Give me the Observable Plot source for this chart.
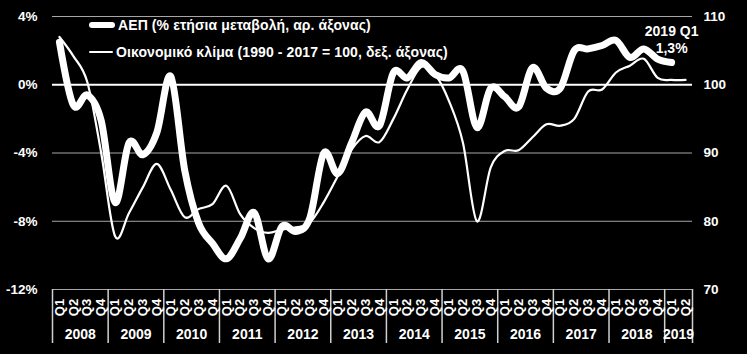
<!DOCTYPE html>
<html><head><meta charset="utf-8">
<script src="https://cdn.jsdelivr.net/npm/d3@7"></script>
<script src="https://cdn.jsdelivr.net/npm/@observablehq/plot@0.6"></script>
<style>
html,body{margin:0;padding:0;background:#000;}
#wrap{position:relative;width:747px;height:354px;font-family:"Liberation Sans",Arial,sans-serif;font-weight:bold;color:#fff;overflow:hidden;}
.leg{position:absolute;left:89px;font-size:14px;height:20px;display:flex;align-items:center;white-space:nowrap;letter-spacing:0.1px;}
.sw{display:inline-block;background:#fff;margin-right:3px;}
</style></head><body><div id="wrap"></div>
<script>
// ---- data ----
const years = [2008,2009,2010,2011,2012,2013,2014,2015,2016,2017,2018,2019];
const quartersPerYear = [4,4,4,4,4,4,4,4,4,4,4,2];
const quarterNames = ["Q1","Q2","Q3","Q4"];
const yTicks = [-12,-8,-4,0,4];
const seriesNames = ["ΑΕΠ (% ετήσια μεταβολή, αρ. άξονας)", "Οικονομικό κλίμα (1990 - 2017 = 100, δεξ. άξονας)"];
// GDP, % y/y, 2008Q1 .. 2019Q1
const gdp = [
  2.5, -1.2, -0.6, -2.1,
  -6.9, -3.4, -4.1, -2.8,
  0.5, -5.0, -8.1, -9.3,
  -10.2, -9.0, -7.5, -10.2,
  -8.3, -8.6, -7.8, -4.0,
  -5.2, -3.4, -1.6, -2.4,
  0.7, 0.4, 1.3, 0.6,
  0.4, 0.8, -2.5, -0.2,
  -0.7, -1.3, 1.0, -0.2,
  -0.2, 2.0, 2.1, 2.3,
  2.6, 1.6, 2.1, 1.5,
  1.3
];
// Economic climate index (1990-2017 = 100), 2008Q1 .. 2019Q2
const climate = [
  107.0, 104.2, 100.4, 90.0,
  77.8, 81.2, 85.0, 88.4,
  84.6, 80.6, 81.8, 82.5,
  85.2, 81.0, 79.0, 78.3,
  78.8, 79.1, 79.8, 82.8,
  86.6, 90.5, 92.5, 91.6,
  95.0, 99.3, 102.6, 101.5,
  97.6, 91.5, 80.0, 87.9,
  90.3, 90.4, 92.3, 94.2,
  94.0, 95.0, 99.0, 99.3,
  101.8, 102.8, 103.8, 101.0,
  100.7, 100.7
];
const annotationPeriod = "2019 Q1";

// ---- derived ----
const periods = years.flatMap((y, k) => quarterNames.slice(0, quartersPerYear[k]).map(q => ({year: y, q})));
const yearStarts = quartersPerYear.map((n, k) => d3.sum(quartersPerYear.slice(0, k)));
const boundaries = [...yearStarts, d3.sum(quartersPerYear)];
const toLeft = v => (v - 100) / 2.5; // right axis -> left axis units
const gdpData = gdp.map((v, i) => ({i: i + 0.5, v}));
const climData = climate.map((v, i) => ({i: i + 0.5, v: toLeft(v)}));
const last = gdpData[gdpData.length - 1];
const fmt = v => v.toFixed(1).replace(".", ",") + "%";

const chart = Plot.plot({
  width: 747, height: 354,
  marginLeft: 52, marginRight: 55, marginTop: 16, marginBottom: 65,
  style: {background: "#000", color: "#fff", fontFamily: "Liberation Sans, Arial, sans-serif", fontWeight: "bold"},
  x: {type: "linear", domain: [0, d3.sum(quartersPerYear)], axis: null},
  y: {domain: [-12, 4], axis: null},
  marks: [
    Plot.ruleY(yTicks.filter(d => d !== 0), {stroke: "#a6a6a6", strokeWidth: 1}),
    Plot.ruleY([0], {stroke: "#fff", strokeWidth: 1.8}),
    Plot.axisY({anchor: "left", ticks: yTicks, tickSize: 0, tickPadding: 15, fontSize: 13.5, tickFormat: d => d + "%", label: null}),
    Plot.axisY({anchor: "right", ticks: yTicks, tickSize: 0, tickPadding: 11, fontSize: 13.5, tickFormat: d => String(100 + 2.5 * d), label: null, textAnchor: "start"}),
    // x axis table
    Plot.ruleX(boundaries, {x: d => d, y1: -12, y2: -12, insetBottom: -54, stroke: "#d0d0d0", strokeWidth: 1.5}),
    Plot.text(periods, {x: (d, i) => i + 0.5, y: () => -12, text: d => d.q, rotate: -90, dy: 18, fontSize: 13, fill: "#fff"}),
    Plot.text(years, {x: (d, k) => yearStarts[k] + quartersPerYear[k] / 2, y: () => -12, text: d => String(d), dy: 45, fontSize: 14, fill: "#fff"}),
    // series
    Plot.line(climData, {x: "i", y: "v", stroke: "#fff", strokeWidth: 2.2, curve: "cardinal", tension: 0}),
    Plot.line(gdpData, {x: "i", y: "v", stroke: "#fff", strokeWidth: 7, curve: "cardinal", tension: 0, strokeLinecap: "round", strokeLinejoin: "round"}),
    // annotation
    Plot.text([last], {x: "i", y: "v", text: () => annotationPeriod, dy: -31, fontSize: 14, fill: "#fff"}),
    Plot.text([last], {x: "i", y: "v", text: d => fmt(d.v), dy: -14, fontSize: 14, fill: "#fff"})
  ]
});
const wrap = document.getElementById("wrap");
wrap.appendChild(chart);
const leg = [
  {name: seriesNames[0], top: 15, w: 26, h: 6},
  {name: seriesNames[1], top: 42, w: 24, h: 2.5}
];
leg.forEach(l => {
  const div = document.createElement("div");
  div.className = "leg";
  div.style.top = l.top + "px";
  const sw = document.createElement("span");
  sw.className = "sw";
  sw.style.width = l.w + "px"; sw.style.height = l.h + "px"; sw.style.borderRadius = (l.h / 2) + "px";
  div.appendChild(sw);
  div.appendChild(document.createTextNode(l.name));
  wrap.appendChild(div);
});
</script></body></html>
